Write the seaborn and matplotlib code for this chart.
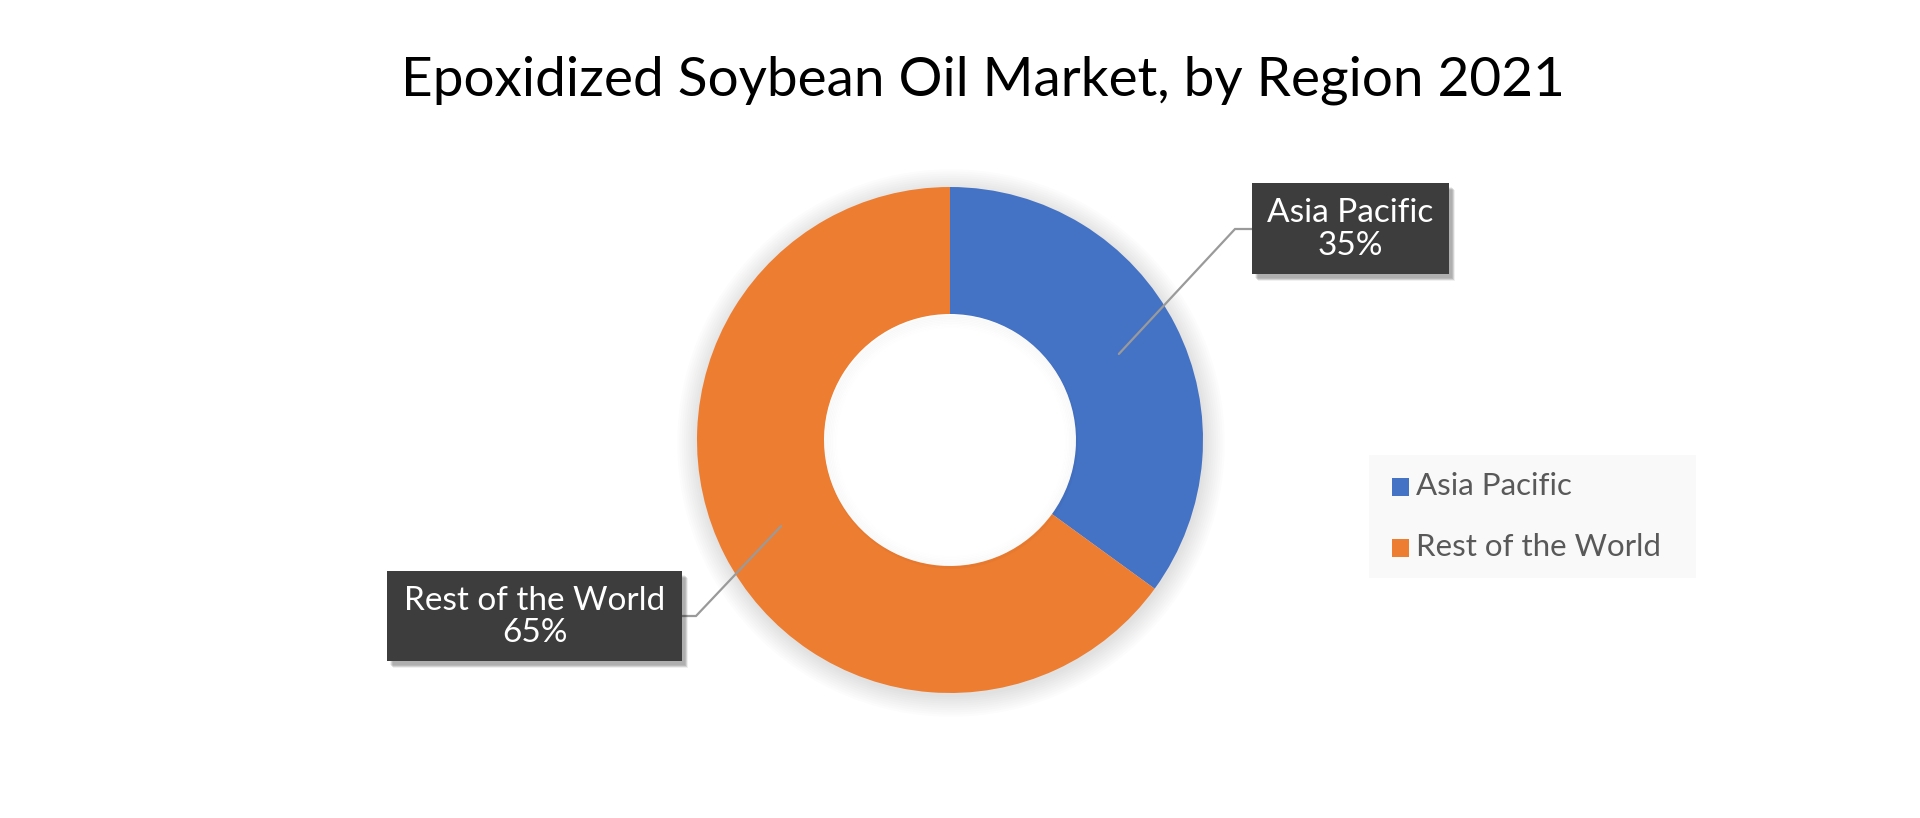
import matplotlib
matplotlib.use("Agg")
import matplotlib.pyplot as plt
from matplotlib.patches import Rectangle, Circle
import numpy as np
import seaborn as sns

# ---- data ----
regions = ["Asia Pacific", "Rest of the World"]
shares = [35, 65]
share_labels = ["35%", "65%"]
title = "Epoxidized Soybean Oil Market, by Region 2021"

sns.set_theme(style="white")
plt.rcParams['font.family'] = ['Lato', 'DejaVu Sans']
colors = sns.color_palette(["#4472C4", "#ED7D31"])

W, H = 1920, 818
fig = plt.figure(figsize=(W / 100, H / 100), dpi=100)
ax = fig.add_axes([0, 0, 1, 1])

def Y(y):
    return H - y

cx, cy = 950, Y(440)
R, ring = 253, 127
r_in = R - ring

# soft shadow around donut
for i in range(10):
    ax.add_patch(Circle((cx + 1, cy - 3), R + 1 + i * 2.2, facecolor="#000000",
                        alpha=0.012, edgecolor="none", zorder=0))

wedges, _ = ax.pie(shares, colors=colors, startangle=90, counterclock=False,
                   radius=R, center=(cx, cy),
                   wedgeprops=dict(width=ring, edgecolor="none"))
for w in wedges:
    w.set_zorder(2)

# white hole + inner shadow
ax.add_patch(Circle((cx, cy), r_in + 0.5, facecolor="white", edgecolor="none", zorder=1.5))
for i in range(8):
    ax.add_patch(Circle((cx + 1, cy - 2), r_in - i * 1.6, facecolor="none",
                        edgecolor="#000000", linewidth=1.6, alpha=0.02 * (8 - i) / 8,
                        zorder=3))

# label boxes (layout)
boxes = [
    dict(x0=1252, x1=1449, y0=183, y1=274, elbow=(1235, 229), side="left"),
    dict(x0=387, x1=682, y0=571, y1=661, elbow=(696, 616), side="right"),
]
for w, reg, lab, b in zip(wedges, regions, share_labels, boxes):
    th = np.deg2rad((w.theta1 + w.theta2) / 2)
    rm = R - ring / 2
    px, py = cx + rm * np.cos(th), cy + rm * np.sin(th)
    ex, ey = b["elbow"][0], Y(b["elbow"][1])
    bx = b["x0"] if b["side"] == "left" else b["x1"]
    ax.plot([px, ex, bx], [py, ey, ey], color="#9a9a9a", lw=1.6, zorder=4,
            solid_joinstyle="miter")
    # shadow
    for k in range(6):
        ax.add_patch(Rectangle((b["x0"] + 3 + k * 0.6, Y(b["y1"]) - 4 - k * 0.6),
                               b["x1"] - b["x0"], b["y1"] - b["y0"],
                               facecolor="#000000", alpha=0.06, edgecolor="none", zorder=4))
    ax.add_patch(Rectangle((b["x0"], Y(b["y1"])), b["x1"] - b["x0"], b["y1"] - b["y0"],
                           facecolor="#3d3d3d", edgecolor="none", zorder=5))
    ax.text((b["x0"] + b["x1"]) / 2, Y((b["y0"] + b["y1"]) / 2) - 1, f"{reg}\n{lab}",
            ha="center", va="center", color="white", fontsize=24, linespacing=1.12,
            zorder=6)

# legend (manual, layout)
ax.add_patch(Rectangle((1369, Y(578)), 1696 - 1369, 578 - 455,
                       facecolor="#f9f9f9", edgecolor="none", zorder=1))
leg_y = [486, 547]
for c, reg, ly in zip(colors, regions, leg_y):
    ax.add_patch(Rectangle((1392, Y(ly + 10)), 17, 18, facecolor=c, edgecolor="none", zorder=2))
    ax.text(1416, Y(ly), reg, ha="left", va="center", color="#595959", fontsize=22.5, zorder=2)

ax.text(983, Y(80), title, ha="center", va="center", color="#000000", fontsize=39.5)

ax.set_xlim(0, W)
ax.set_ylim(0, H)
ax.set_aspect("auto")
ax.axis("off")
fig.savefig("out.png", dpi=100, facecolor="white")
